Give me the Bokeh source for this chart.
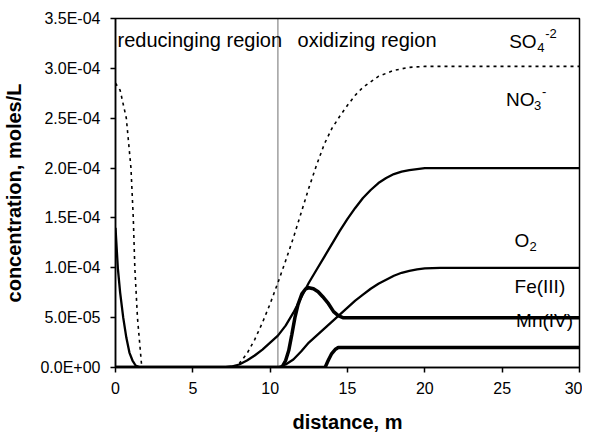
from bokeh.plotting import figure
from bokeh.models import Label, Span, FixedTicker, CustomJSTickFormatter, Range1d
from bokeh.embed import file_html
from bokeh.resources import INLINE

# ---- data (concentrations given in units of 1e-4 moles/L) ----
so4_x = [0, 0.3, 0.7, 1.0, 1.15, 1.25, 1.42, 1.7, 7.5, 8.0, 8.5, 9.0, 9.5, 10.0, 10.5, 11.0,
         11.5, 12.0, 12.5, 13.0, 13.5, 14.0, 14.5, 15.0, 15.5, 16.0, 17.0, 18.0, 19.0, 20.0, 30.0]
so4_e4 = [2.85, 2.78, 2.5, 2.0, 1.5, 1.0, 0.5, 0.0, 0.0, 0.04, 0.14, 0.28, 0.45, 0.64, 0.85, 1.07,
          1.30, 1.55, 1.80, 2.03, 2.24, 2.40, 2.52, 2.63, 2.73, 2.81, 2.92, 2.98, 3.01, 3.02, 3.02]

no3_x = [0, 0.15, 0.3, 0.5, 0.7, 0.9, 1.1, 1.3, 1.6, 7.0, 7.5, 8.0, 8.5, 9.0, 9.5, 10.0, 10.5,
         11.0, 11.5, 12.0, 12.5, 13.0, 13.5, 14.0, 14.5, 15.0, 15.5, 16.0, 16.5, 17.0, 17.5,
         18.0, 18.5, 19.0, 19.5, 20.0, 30.0]
no3_e4 = [1.4, 1.0, 0.75, 0.5, 0.3, 0.15, 0.07, 0.02, 0.0, 0.0, 0.01, 0.03, 0.07, 0.12, 0.18,
          0.25, 0.32, 0.42, 0.55, 0.70, 0.85, 0.98, 1.11, 1.24, 1.37, 1.49, 1.60, 1.70, 1.78,
          1.85, 1.90, 1.94, 1.965, 1.98, 1.99, 2.0, 2.0]

o2_x = [0, 10.5, 11.0, 11.5, 12.0, 12.5, 13.0, 13.5, 14.0, 14.5, 15.0, 15.5, 16.0, 16.5, 17.0,
        17.5, 18.0, 18.5, 19.0, 19.5, 20.0, 21.0, 30.0]
o2_e4 = [0.0, 0.0, 0.03, 0.08, 0.16, 0.25, 0.32, 0.39, 0.46, 0.53, 0.60, 0.67, 0.73, 0.79, 0.84,
         0.88, 0.92, 0.95, 0.97, 0.985, 0.995, 1.0, 1.0]

fe_x = [0, 10.75, 11.0, 11.2, 11.4, 11.6, 11.8, 12.05, 12.3, 12.5, 12.8, 13.1, 13.4, 13.77,
        14.1, 14.4, 14.7, 15.0, 30.0]
fe_e4 = [0.0, 0.0, 0.07, 0.17, 0.33, 0.50, 0.63, 0.74, 0.79, 0.80, 0.79, 0.76, 0.71, 0.64,
         0.56, 0.52, 0.50, 0.50, 0.50]

mn_x = [0, 13.55, 13.75, 13.98, 14.2, 14.4, 30.0]
mn_e4 = [0.0, 0.0, 0.07, 0.14, 0.18, 0.20, 0.20]

boundary_x = 10.5

x_ticks = [0, 5, 10, 15, 20, 25, 30]
y_ticks = [0.0, 0.5e-4, 1.0e-4, 1.5e-4, 2.0e-4, 2.5e-4, 3.0e-4, 3.5e-4]
y_tick_labels = ["0.0E+00", "5.0E-05", "1.0E-04", "1.5E-04", "2.0E-04", "2.5E-04", "3.0E-04", "3.5E-04"]

def scale(vals):
    return [v * 1e-4 for v in vals]

FONT = "Liberation Sans"

p = figure(frame_width=464, frame_height=349,
           min_border_left=109, min_border_right=3, min_border_top=18, min_border_bottom=60,
           x_range=Range1d(0, 30), y_range=Range1d(0, 3.5e-4),
           output_backend="svg", toolbar_location=None)

p.background_fill_color = "white"
p.border_fill_color = "white"
p.outline_line_color = "black"
p.outline_line_width = 1.5
p.outline_line_alpha = 1.0
p.grid.visible = False

# curves
p.line(so4_x, scale(so4_e4), line_color="black", line_width=1.6, line_dash="3 4")
p.line(no3_x, scale(no3_e4), line_color="black", line_width=2.3)
p.line(o2_x, scale(o2_e4), line_color="black", line_width=2.3)
p.line(fe_x, scale(fe_e4), line_color="black", line_width=3.5)
p.line(mn_x, scale(mn_e4), line_color="black", line_width=3.5)

p.add_layout(Span(location=boundary_x, dimension="height", line_color="#111111",
                  line_width=1.2, line_dash="1 1"))

# axes
for ax in (p.xaxis[0], p.yaxis[0]):
    ax.axis_line_color = "black"
    ax.axis_line_width = 1.5
    ax.major_tick_in = 0
    ax.major_tick_out = 5
    ax.major_tick_line_width = 1.5
    ax.minor_tick_in = 0
    ax.minor_tick_out = 0
    ax.major_label_text_font = FONT
    ax.major_label_text_font_size = "16px"
    ax.major_label_text_color = "black"
    ax.axis_label_text_font = FONT
    ax.axis_label_text_font_size = "20px"
    ax.axis_label_text_font_style = "bold"
    ax.axis_label_text_color = "black"

p.xaxis.ticker = FixedTicker(ticks=x_ticks)
p.yaxis.ticker = FixedTicker(ticks=y_ticks)
p.yaxis.formatter = CustomJSTickFormatter(
    args=dict(tick_values=y_ticks, tick_texts=y_tick_labels),
    code="""
    for (let i = 0; i < tick_values.length; i++) {
        if (Math.abs(tick_values[i] - tick) < 1e-9) { return tick_texts[i]; }
    }
    return tick.toExponential(1).toUpperCase();
    """)
p.xaxis.major_label_standoff = 9
p.yaxis.major_label_standoff = 10
p.xaxis.axis_label = "distance, m"
p.yaxis.axis_label = "concentration, moles/L"
p.xaxis.axis_label_standoff = 14
p.yaxis.axis_label_standoff = 12

def add_text(x, y, text, size="20px", xo=0, yo=0, style="normal"):
    p.add_layout(Label(x=x, y=y, x_offset=xo, y_offset=yo, text=text,
                       text_font=FONT, text_font_size=size, text_color="black",
                       text_font_style=style, text_baseline="alphabetic",
                       text_align="left"))

# region captions
add_text(0.13, 3.28e-4, "reducinging region")
add_text(11.77, 3.28e-4, "oxidizing region")

# species labels (main text, subscript, superscript)
add_text(25.45, 3.27e-4, "SO", size="19px")
add_text(25.45, 3.27e-4, "4", size="13px", xo=28, yo=-6)
add_text(25.45, 3.27e-4, "-2", size="13px", xo=36, yo=8)

add_text(25.25, 2.69e-4, "NO", size="19px")
add_text(25.25, 2.69e-4, "3", size="13px", xo=28, yo=-6)
add_text(25.25, 2.69e-4, "-", size="13px", xo=36, yo=8)

add_text(25.8, 1.27e-4, "O", size="19px")
add_text(25.8, 1.27e-4, "2", size="13px", xo=15, yo=-6)

add_text(25.8, 0.815e-4, "Fe(III)", size="19px")
add_text(25.9, 0.47e-4, "Mn(IV)", size="19px")

open("out.html", "w").write(file_html(p, INLINE))
